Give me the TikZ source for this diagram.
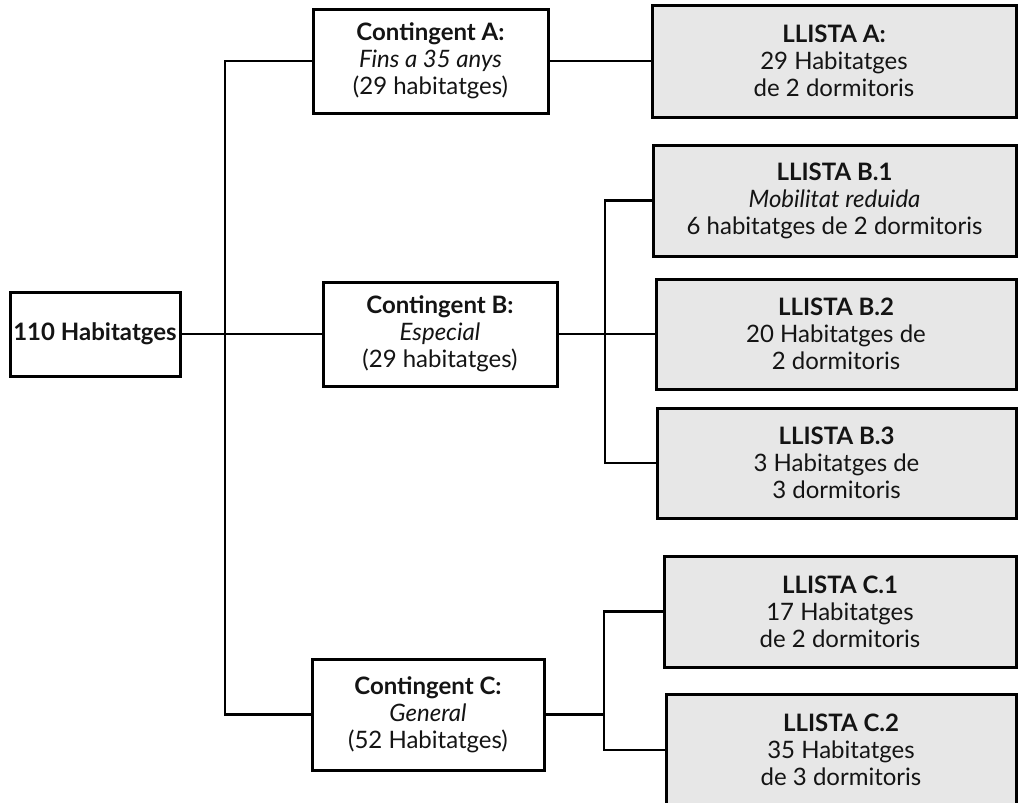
\documentclass[tikz,border=0pt]{standalone}
\usepackage{fontspec}
\setmainfont{Lato}
\definecolor{llistagris}{HTML}{E7E7E7}
\definecolor{textfosc}{HTML}{141414}
\tikzset{
	grupbox/.style={draw=black, line width=1.5pt, fill=white, align=center, inner sep=0pt, text=textfosc, font=\fontsize{12}{13.5}\selectfont},
	llistabox/.style={grupbox, fill=llistagris},
	enllac/.style={line width=1.4pt, line cap=rect}
}
\begin{document}
\begin{tikzpicture}[x=0.5pt, y=-0.5pt]
	\useasboundingbox (0,0) rectangle (1018,803);
	\node[grupbox, minimum width=85pt, minimum height=42pt] (arrel) at (95,334) {\textbf{110 Habitatges}};
	\node[grupbox, minimum width=117.5pt, minimum height=52pt] (contA) at (430.5,61) {\textbf{Contingent A:}\\\textit{Fins a 35 anys}\\(29 habitatges)};
	\node[grupbox, minimum width=117pt, minimum height=52pt] (contB) at (440,334) {\textbf{Contingent B:}\\\textit{Especial}\\(29 habitatges)};
	\node[grupbox, minimum width=116pt, minimum height=55.5pt] (contC) at (428,714.5) {\textbf{Contingent C:}\\\textit{General}\\(52 Habitatges)};
	\node[llistabox, minimum width=182pt, minimum height=56pt] (llA) at (834,61) {\textbf{LLISTA A:}\\29 Habitatges\\de 2 dormitoris};
	\node[llistabox, minimum width=181.5pt, minimum height=55.5pt] (llB1) at (834.5,200.5) {\textbf{LLISTA B.1}\\\textit{Mobilitat reduida}\\6 habitatges de 2 dormitoris};
	\node[llistabox, minimum width=180pt, minimum height=55pt] (llB2) at (836,334) {\textbf{LLISTA B.2}\\20 Habitatges de\\2 dormitoris};
	\node[llistabox, minimum width=179.5pt, minimum height=55pt] (llB3) at (836.5,463) {\textbf{LLISTA B.3}\\3 Habitatges de\\3 dormitoris};
	\node[llistabox, minimum width=176pt, minimum height=55.5pt] (llC1) at (840,611.5) {\textbf{LLISTA C.1}\\17 Habitatges\\de 2 dormitoris};
	\node[llistabox, minimum width=175pt, minimum height=55.5pt] (llC2) at (841,750) {\textbf{LLISTA C.2}\\35 Habitatges\\de 3 dormitoris};
	\coordinate (tronc) at (225,334);
	\coordinate (nusB) at (605,334);
	\coordinate (nusC) at (604,714.5);
	\draw[enllac] (arrel.east) -- (contB.west);
	\draw[enllac] (contA.west) -| (tronc) |- (contC.west);
	\draw[enllac] (contA.east) -- (llA.west);
	\draw[enllac] (contB.east) -- (nusB);
	\draw[enllac] (llB1.west) -| (nusB) |- (llB3.west);
	\draw[enllac] (nusB) -- (llB2.west);
	\draw[enllac] (contC.east) -- (nusC);
	\draw[enllac] (llC1.west) -| (nusC) |- (llC2.west);
\end{tikzpicture}
\end{document}
